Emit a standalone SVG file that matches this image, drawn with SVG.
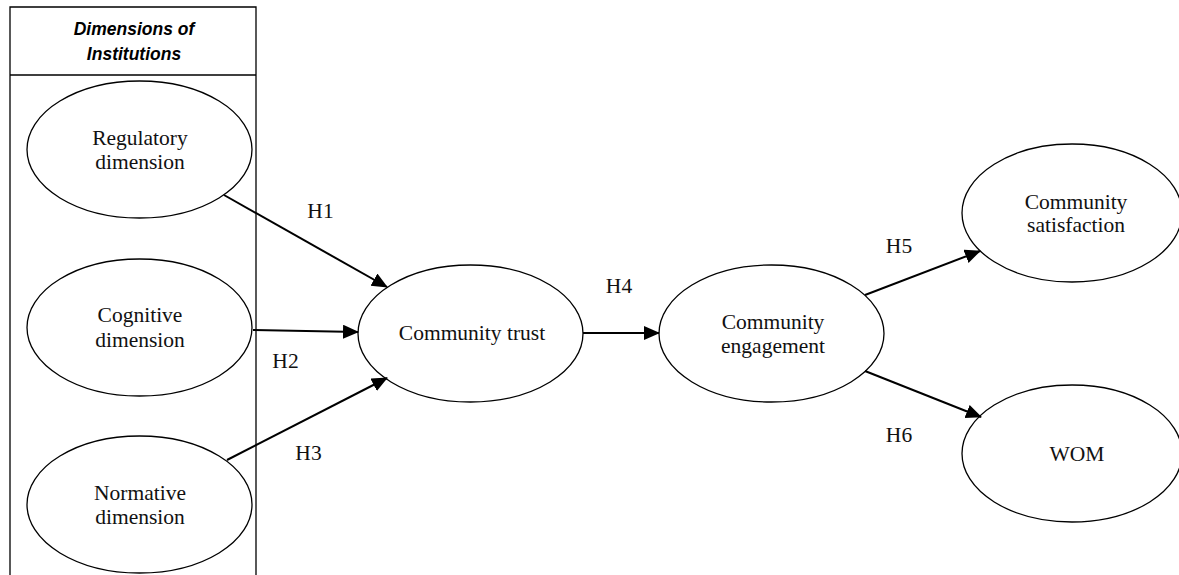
<svg xmlns="http://www.w3.org/2000/svg" width="1179" height="575" viewBox="0 0 1179 575">
<style>
.box{fill:none;stroke:#000;stroke-width:1.3}
.node ellipse{fill:#fff;stroke:#000;stroke-width:1.3}
.lbl{font-family:"Liberation Serif","Times New Roman",serif;font-size:21.5px;fill:#111;text-anchor:middle}
.hdr{font-family:"Liberation Sans",Arial,sans-serif;font-size:17.5px;font-weight:bold;font-style:italic;fill:#000;text-anchor:middle}
.edge{stroke:#000;stroke-width:2;fill:none;marker-end:url(#arr)}
</style>
<defs>
<marker id="arr" markerUnits="userSpaceOnUse" markerWidth="18" markerHeight="16" refX="15" refY="7" orient="auto">
<path d="M0,0 L16,7 L0,14 z" fill="#000"/>
</marker>
</defs>
<rect width="1179" height="575" fill="#fff"/>
<g id="institutions">
<path class="box" d="M10,580 L10,7 L256,7 L256,580 M10,75 L256,75"/>
<text class="hdr" x="134" y="35">Dimensions of</text>
<text class="hdr" x="134" y="60">Institutions</text>
</g>
<g id="regulatory" class="node">
<ellipse cx="139.5" cy="149.5" rx="112.5" ry="68.5"/>
<text class="lbl" x="140" y="145">Regulatory</text>
<text class="lbl" x="140" y="169">dimension</text>
</g>
<g id="cognitive" class="node">
<ellipse cx="139.5" cy="327.5" rx="112.5" ry="68.5"/>
<text class="lbl" x="140" y="322">Cognitive</text>
<text class="lbl" x="140" y="347">dimension</text>
</g>
<g id="normative" class="node">
<ellipse cx="139.5" cy="504.5" rx="112.5" ry="68.5"/>
<text class="lbl" x="140" y="500">Normative</text>
<text class="lbl" x="140" y="524">dimension</text>
</g>
<g id="trust" class="node">
<ellipse cx="470.5" cy="333.5" rx="112.5" ry="68.5"/>
<text class="lbl" x="472" y="340">Community trust</text>
</g>
<g id="engagement" class="node">
<ellipse cx="771.5" cy="333.5" rx="112.5" ry="68.5"/>
<text class="lbl" x="773" y="329">Community</text>
<text class="lbl" x="773" y="353">engagement</text>
</g>
<g id="satisfaction" class="node">
<ellipse cx="1072" cy="213" rx="110" ry="69"/>
<text class="lbl" x="1076" y="209">Community</text>
<text class="lbl" x="1076" y="232">satisfaction</text>
</g>
<g id="wom" class="node">
<ellipse cx="1072" cy="453.5" rx="110" ry="68.5"/>
<text class="lbl" x="1077" y="461">WOM</text>
</g>
<g id="connectors">
<line class="edge" x1="224" y1="195" x2="387" y2="287"/>
<line class="edge" x1="253" y1="330" x2="358" y2="332"/>
<line class="edge" x1="227" y1="460" x2="387" y2="378"/>
<line class="edge" x1="583" y1="333" x2="659" y2="333"/>
<line class="edge" x1="865" y1="295" x2="980" y2="251"/>
<line class="edge" x1="865" y1="371" x2="981" y2="417"/>
<text class="lbl" x="320.5" y="218">H1</text>
<text class="lbl" x="285.5" y="368">H2</text>
<text class="lbl" x="308.5" y="460">H3</text>
<text class="lbl" x="619" y="293">H4</text>
<text class="lbl" x="899" y="253">H5</text>
<text class="lbl" x="899" y="442">H6</text>
</g>
</svg>
